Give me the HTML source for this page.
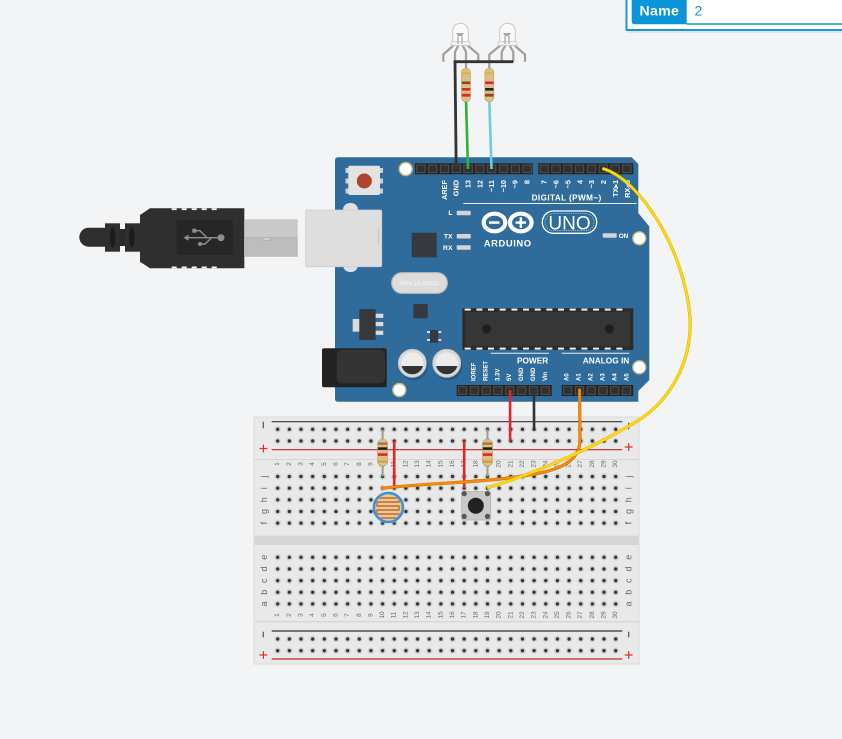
<!DOCTYPE html>
<html>
<head>
<meta charset="utf-8">
<style>
html,body{margin:0;padding:0;background:#f3f4f6;width:842px;height:739px;overflow:hidden;}
svg{display:block;}
text{font-family:"Liberation Sans",Arial,sans-serif;}
.cn text{font-size:6.5px;fill:#6a6a6a;text-anchor:middle;dominant-baseline:central;}
.rl text{font-size:9px;fill:#666;text-anchor:middle;dominant-baseline:central;}
.tl text{font-size:7.3px;font-weight:bold;fill:#fff;text-anchor:end;dominant-baseline:central;}
.bl text{font-size:6px;font-weight:bold;fill:#fff;text-anchor:start;dominant-baseline:central;}
</style>
</head>
<body>
<svg width="842" height="739" viewBox="0 0 842 739" xmlns="http://www.w3.org/2000/svg">
<defs>
  <pattern id="bh" width="11.655" height="11.655" patternUnits="userSpaceOnUse">
    <circle cx="5.83" cy="5.83" r="3.3" fill="#d3d3d3"/>
    <circle cx="5.83" cy="5.83" r="1.7" fill="#333"/>
  </pattern>
  <pattern id="pn" width="11.8" height="11" patternUnits="userSpaceOnUse">
    <rect x="1.7" y="1.7" width="8.4" height="7.6" fill="#303030" stroke="#5a5a5a" stroke-width="0.8"/>
  </pattern>
  <clipPath id="ldrc"><circle cx="388.4" cy="507.5" r="13"/></clipPath>
</defs>

<rect width="842" height="739" fill="#f3f4f6"/>

<!-- ================= BREADBOARD ================= -->
<rect x="254" y="417" width="385" height="247" fill="#e9e9e9" stroke="#dadada" stroke-width="1"/>
<rect x="254.5" y="459" width="384" height="1" fill="#d6d6d6"/>
<rect x="254.5" y="535.7" width="384" height="9.3" fill="#d6d6d6"/>
<rect x="254.5" y="621.2" width="384" height="1" fill="#d2d2d2"/>

<!-- rail lines -->
<line x1="271.7" y1="421.7" x2="622.3" y2="421.7" stroke="#333" stroke-width="1.2"/>
<line x1="271.7" y1="449.7" x2="622.3" y2="449.7" stroke="#c62828" stroke-width="1.2"/>
<line x1="271.7" y1="631" x2="622.3" y2="631" stroke="#333" stroke-width="1.2"/>
<line x1="271.7" y1="659" x2="622.3" y2="659" stroke="#c62828" stroke-width="1.2"/>

<!-- rail signs -->
<g stroke-width="1.2">
  <line x1="263.3" y1="421.7" x2="263.3" y2="428.3" stroke="#555"/>
  <line x1="259.5" y1="448.5" x2="267.3" y2="448.5" stroke="#d32f2f"/><line x1="263.4" y1="444.6" x2="263.4" y2="452.4" stroke="#d32f2f"/>
  <line x1="628.7" y1="422.7" x2="628.7" y2="429.3" stroke="#555"/>
  <line x1="624.8" y1="447" x2="632.6" y2="447" stroke="#d32f2f"/><line x1="628.7" y1="443.1" x2="628.7" y2="450.9" stroke="#d32f2f"/>
  <line x1="263.3" y1="631.7" x2="263.3" y2="637.3" stroke="#555"/>
  <line x1="259.5" y1="655" x2="267.3" y2="655" stroke="#d32f2f"/><line x1="263.4" y1="651.1" x2="263.4" y2="658.9" stroke="#d32f2f"/>
  <line x1="628.7" y1="631.7" x2="628.7" y2="637.3" stroke="#555"/>
  <line x1="624.8" y1="655" x2="632.6" y2="655" stroke="#d32f2f"/><line x1="628.7" y1="651.1" x2="628.7" y2="658.9" stroke="#d32f2f"/>
</g>

<!-- holes -->
<g transform="translate(271.87,423.47)"><rect width="349.65" height="23.31" fill="url(#bh)"/></g>
<g transform="translate(271.87,470.67)"><rect width="349.65" height="58.28" fill="url(#bh)"/></g>
<g transform="translate(271.87,551.47)"><rect width="349.65" height="58.28" fill="url(#bh)"/></g>
<g transform="translate(271.87,633.17)"><rect width="349.65" height="23.31" fill="url(#bh)"/></g>

<!-- column numbers top -->
<g class="cn">
<text transform="translate(277.7,464) rotate(-90)">1</text>
<text transform="translate(289.4,464) rotate(-90)">2</text>
<text transform="translate(301.0,464) rotate(-90)">3</text>
<text transform="translate(312.7,464) rotate(-90)">4</text>
<text transform="translate(324.3,464) rotate(-90)">5</text>
<text transform="translate(336.0,464) rotate(-90)">6</text>
<text transform="translate(347.6,464) rotate(-90)">7</text>
<text transform="translate(359.3,464) rotate(-90)">8</text>
<text transform="translate(370.9,464) rotate(-90)">9</text>
<text transform="translate(382.6,464) rotate(-90)">10</text>
<text transform="translate(394.2,464) rotate(-90)">11</text>
<text transform="translate(405.9,464) rotate(-90)">12</text>
<text transform="translate(417.6,464) rotate(-90)">13</text>
<text transform="translate(429.2,464) rotate(-90)">14</text>
<text transform="translate(440.9,464) rotate(-90)">15</text>
<text transform="translate(452.5,464) rotate(-90)">16</text>
<text transform="translate(464.2,464) rotate(-90)">17</text>
<text transform="translate(475.8,464) rotate(-90)">18</text>
<text transform="translate(487.5,464) rotate(-90)">19</text>
<text transform="translate(499.1,464) rotate(-90)">20</text>
<text transform="translate(510.8,464) rotate(-90)">21</text>
<text transform="translate(522.5,464) rotate(-90)">22</text>
<text transform="translate(534.1,464) rotate(-90)">23</text>
<text transform="translate(545.8,464) rotate(-90)">24</text>
<text transform="translate(557.4,464) rotate(-90)">25</text>
<text transform="translate(569.1,464) rotate(-90)">26</text>
<text transform="translate(580.7,464) rotate(-90)">27</text>
<text transform="translate(592.4,464) rotate(-90)">28</text>
<text transform="translate(604.0,464) rotate(-90)">29</text>
<text transform="translate(615.7,464) rotate(-90)">30</text>
<!-- bottom -->
<text transform="translate(277.7,615) rotate(-90)">1</text>
<text transform="translate(289.4,615) rotate(-90)">2</text>
<text transform="translate(301.0,615) rotate(-90)">3</text>
<text transform="translate(312.7,615) rotate(-90)">4</text>
<text transform="translate(324.3,615) rotate(-90)">5</text>
<text transform="translate(336.0,615) rotate(-90)">6</text>
<text transform="translate(347.6,615) rotate(-90)">7</text>
<text transform="translate(359.3,615) rotate(-90)">8</text>
<text transform="translate(370.9,615) rotate(-90)">9</text>
<text transform="translate(382.6,615) rotate(-90)">10</text>
<text transform="translate(394.2,615) rotate(-90)">11</text>
<text transform="translate(405.9,615) rotate(-90)">12</text>
<text transform="translate(417.6,615) rotate(-90)">13</text>
<text transform="translate(429.2,615) rotate(-90)">14</text>
<text transform="translate(440.9,615) rotate(-90)">15</text>
<text transform="translate(452.5,615) rotate(-90)">16</text>
<text transform="translate(464.2,615) rotate(-90)">17</text>
<text transform="translate(475.8,615) rotate(-90)">18</text>
<text transform="translate(487.5,615) rotate(-90)">19</text>
<text transform="translate(499.1,615) rotate(-90)">20</text>
<text transform="translate(510.8,615) rotate(-90)">21</text>
<text transform="translate(522.5,615) rotate(-90)">22</text>
<text transform="translate(534.1,615) rotate(-90)">23</text>
<text transform="translate(545.8,615) rotate(-90)">24</text>
<text transform="translate(557.4,615) rotate(-90)">25</text>
<text transform="translate(569.1,615) rotate(-90)">26</text>
<text transform="translate(580.7,615) rotate(-90)">27</text>
<text transform="translate(592.4,615) rotate(-90)">28</text>
<text transform="translate(604.0,615) rotate(-90)">29</text>
<text transform="translate(615.7,615) rotate(-90)">30</text>
</g>

<!-- row letters -->
<g class="rl">
<text transform="translate(264,476.5) rotate(-90)">j</text>
<text transform="translate(264,488.2) rotate(-90)">i</text>
<text transform="translate(264,499.8) rotate(-90)">h</text>
<text transform="translate(264,511.5) rotate(-90)">g</text>
<text transform="translate(264,523.1) rotate(-90)">f</text>
<text transform="translate(264,557.3) rotate(-90)">e</text>
<text transform="translate(264,569) rotate(-90)">d</text>
<text transform="translate(264,580.7) rotate(-90)">c</text>
<text transform="translate(264,592.3) rotate(-90)">b</text>
<text transform="translate(264,604) rotate(-90)">a</text>
<text transform="translate(628.7,476.5) rotate(-90)">j</text>
<text transform="translate(628.7,488.2) rotate(-90)">i</text>
<text transform="translate(628.7,499.8) rotate(-90)">h</text>
<text transform="translate(628.7,511.5) rotate(-90)">g</text>
<text transform="translate(628.7,523.1) rotate(-90)">f</text>
<text transform="translate(628.7,557.3) rotate(-90)">e</text>
<text transform="translate(628.7,569) rotate(-90)">d</text>
<text transform="translate(628.7,580.7) rotate(-90)">c</text>
<text transform="translate(628.7,592.3) rotate(-90)">b</text>
<text transform="translate(628.7,604) rotate(-90)">a</text>
</g>

<!-- ================= USB CABLE ================= -->
<path d="M106,227.7 H88.8 A9.5,9.5 0 0 0 88.8,246.7 H106 Z" fill="#2f2f2f"/>
<rect x="105" y="223.3" width="15" height="28.4" fill="#2f2f2f"/>
<rect x="119" y="229" width="7" height="17" fill="#2a2a2a"/>
<rect x="125" y="223.3" width="16" height="28.4" fill="#2f2f2f"/>
<ellipse cx="112.7" cy="237.5" rx="2.8" ry="10" fill="#1c1c1c"/>
<ellipse cx="131.7" cy="237.5" rx="2.8" ry="10" fill="#1c1c1c"/>
<path d="M150,208.3 H244.3 V268.3 H150 L140,261.7 V215 Z" fill="#2f2f2f"/>
<g fill="#f3f4f6">
  <rect x="171.7" y="208.3" width="5" height="1.8"/><rect x="181.7" y="208.3" width="5" height="1.8"/><rect x="191.7" y="208.3" width="5" height="1.8"/><rect x="201.7" y="208.3" width="5" height="1.8"/><rect x="211.7" y="208.3" width="5" height="1.8"/>
  <rect x="171.7" y="266.5" width="5" height="1.8"/><rect x="181.7" y="266.5" width="5" height="1.8"/><rect x="191.7" y="266.5" width="5" height="1.8"/><rect x="201.7" y="266.5" width="5" height="1.8"/><rect x="211.7" y="266.5" width="5" height="1.8"/>
</g>
<rect x="176.7" y="220" width="56" height="35" fill="#262626"/>
<!-- usb symbol -->
<g stroke="#8f8f8f" stroke-width="1.4" fill="none">
  <line x1="186" y1="237.7" x2="221" y2="237.7"/>
  <polyline points="194.3,230.7 200,230.7 207,237.7"/>
  <polyline points="200,244 205,244 211.5,237.7"/>
</g>
<g fill="#8f8f8f">
  <polygon points="183.3,237.7 188.5,234.8 188.5,240.6"/>
  <circle cx="221" cy="237.7" r="3.5"/>
  <rect x="192.3" y="228.7" width="4" height="4"/>
  <circle cx="200" cy="244" r="2"/>
</g>
<!-- metal -->
<rect x="244.3" y="219.3" width="53.4" height="37.4" fill="#c9c9c9"/>
<rect x="244.3" y="238" width="53.4" height="18.7" fill="#bdbdbd"/>
<line x1="244.3" y1="237.8" x2="297.7" y2="237.8" stroke="#adadad" stroke-width="0.8"/>
<rect x="263.5" y="237.8" width="6.5" height="2.5" fill="#d2d2d2" stroke="#a8a8a8" stroke-width="0.6"/>

<!-- ================= ARDUINO ================= -->
<path d="M338,157.3 H631.7 L638.3,164 V213 L649.3,226.5 V380 L638.3,391 V401.7 H338 Q335,401.7 335,398.7 V160.3 Q335,157.3 338,157.3 Z" fill="#2f6c9c"/>

<!-- usb port -->
<rect x="343" y="203" width="15" height="69" rx="7" fill="#dde1e5"/>
<rect x="305.7" y="210" width="76" height="56.7" rx="1.5" fill="#dedede" stroke="#cdcdcd" stroke-width="0.8"/>
<line x1="378.5" y1="229" x2="378.5" y2="245" stroke="#bdbdbd" stroke-width="0.8"/>

<!-- reset button -->
<g fill="#cfcfcf">
  <rect x="345.5" y="168" width="3" height="5"/><rect x="345.5" y="178.5" width="3" height="5"/><rect x="345.5" y="188.5" width="3" height="5"/>
  <rect x="380" y="168" width="3" height="5"/><rect x="380" y="178.5" width="3" height="5"/><rect x="380" y="188.5" width="3" height="5"/>
</g>
<rect x="348.3" y="165.7" width="31.7" height="29.3" rx="1.5" fill="#e3e3e3"/>
<circle cx="364.3" cy="181" r="7.5" fill="#b0452c"/>

<!-- mounting holes -->
<g fill="#fdfdfd" stroke="#cdb878" stroke-width="1.4">
  <circle cx="405.7" cy="169" r="6.5"/>
  <circle cx="639.3" cy="238.3" r="6.5"/>
  <circle cx="639.3" cy="367.3" r="6.5"/>
  <circle cx="399.3" cy="390" r="6.5"/>
</g>

<!-- headers top -->
<rect x="415" y="163.3" width="117.7" height="11" fill="#242424"/>
<g transform="translate(415,163.3)"><rect width="117.7" height="11" fill="url(#pn)"/></g>
<rect x="538.3" y="163.3" width="95" height="11" fill="#242424"/>
<g transform="translate(538.3,163.3)"><rect width="95" height="11" fill="url(#pn)"/></g>

<g class="tl">
<text transform="translate(444.5,180) rotate(-90)">AREF</text>
<text transform="translate(456.2,180) rotate(-90)">GND</text>
<text transform="translate(468,180) rotate(-90)">13</text>
<text transform="translate(479.8,180) rotate(-90)">12</text>
<text transform="translate(491.5,180) rotate(-90)">~11</text>
<text transform="translate(503.3,180) rotate(-90)">~10</text>
<text transform="translate(515,180) rotate(-90)">~9</text>
<text transform="translate(526.8,180) rotate(-90)">8</text>
<text transform="translate(544.2,180) rotate(-90)">7</text>
<text transform="translate(556.1,180) rotate(-90)">~6</text>
<text transform="translate(568,180) rotate(-90)">~5</text>
<text transform="translate(579.9,180) rotate(-90)">4</text>
<text transform="translate(591.7,180) rotate(-90)">~3</text>
<text transform="translate(603.6,180) rotate(-90)">2</text>
<text transform="translate(615.5,180) rotate(-90)">TX▸1</text>
<text transform="translate(627.4,180) rotate(-90)">RX◂0</text>
</g>
<text x="601.7" y="200.6" font-size="8.2" font-weight="bold" fill="#fff" text-anchor="end" letter-spacing="0.4">DIGITAL (PWM~)</text>
<line x1="463.3" y1="203.5" x2="636.7" y2="203.5" stroke="#e8eef4" stroke-width="1"/>

<!-- L TX RX leds -->
<g font-size="6.8" font-weight="bold" fill="#fff" text-anchor="end">
  <text x="452.5" y="215.2">L</text>
  <text x="452.5" y="238.5">TX</text>
  <text x="452.5" y="249.8">RX</text>
</g>
<g fill="#d4d4d4">
  <rect x="456.7" y="210.7" width="14" height="4.5" rx="0.8"/>
  <rect x="456.7" y="234" width="14" height="4.5" rx="0.8"/>
  <rect x="456.7" y="245.3" width="14" height="4.5" rx="0.8"/>
</g>

<!-- 16U2 chip -->
<rect x="411.7" y="232.7" width="25" height="24.7" fill="#363a3e"/>

<!-- Arduino logo -->
<ellipse cx="494.5" cy="222.5" rx="10.8" ry="8.8" fill="none" stroke="#fff" stroke-width="4.2"/>
<ellipse cx="520.8" cy="222.5" rx="10.8" ry="8.8" fill="none" stroke="#fff" stroke-width="4.2"/>
<rect x="489" y="221.3" width="10.5" height="2.5" fill="#fff"/>
<rect x="515.6" y="221.3" width="10.5" height="2.5" fill="#fff"/>
<rect x="519.6" y="217.3" width="2.5" height="10.5" fill="#fff"/>
<text x="507.7" y="246.7" font-size="9.4" font-weight="bold" fill="#fff" text-anchor="middle" letter-spacing="0.6">ARDUINO</text>

<!-- UNO pill -->
<rect x="542.3" y="211" width="54.4" height="22.3" rx="11.1" fill="none" stroke="#fff" stroke-width="1.3"/>
<rect x="545" y="213.7" width="49" height="16.9" rx="8.4" fill="none" stroke="#fff" stroke-width="0.7" stroke-dasharray="1,1.2" opacity="0.8"/>
<text x="569.5" y="229.5" font-size="19" fill="#fff" text-anchor="middle">UNO</text>

<!-- ON led -->
<rect x="602.7" y="233.3" width="14" height="4.4" rx="0.8" fill="#d4d4d4"/>
<text x="618.7" y="238" font-size="6.4" font-weight="bold" fill="#fff">ON</text>

<!-- crystal -->
<rect x="391.7" y="272.7" width="55.6" height="20.6" rx="10.3" fill="#dcdcdc" stroke="#bdbdbd" stroke-width="1.2"/>
<text x="419.5" y="285.6" font-size="6.8" fill="#f4f4f4" text-anchor="middle">SPK16.000G</text>

<!-- small chip -->
<rect x="413.3" y="304" width="14.4" height="14.3" fill="#363a3e"/>

<!-- regulator -->
<rect x="352.7" y="319" width="7" height="12.7" fill="#dadada"/>
<rect x="359.3" y="309" width="16.4" height="31" fill="#363a3e"/>
<g fill="#dadada">
  <rect x="375.7" y="313.7" width="7.6" height="4.2"/>
  <rect x="375.7" y="322" width="7.6" height="4.2"/>
  <rect x="375.7" y="330.7" width="7.6" height="4.2"/>
</g>

<!-- small transistor -->
<rect x="430" y="330" width="8.3" height="12.7" fill="#363a3e"/>
<g fill="#dadada">
  <rect x="427" y="331" width="3" height="2"/><rect x="427" y="339" width="3" height="2"/>
  <rect x="438.3" y="331" width="3" height="2"/><rect x="438.3" y="339" width="3" height="2"/>
</g>

<!-- main IC -->
<rect x="462.3" y="308.3" width="171" height="41.7" rx="1" fill="#2c2c2c"/>
<rect x="465.5" y="312" width="164.6" height="34.3" fill="#363636"/>
<g fill="#f0f0f0">
  <rect x="464.7" y="308.6" width="6" height="2"/><rect x="476.4" y="308.6" width="6" height="2"/><rect x="488" y="308.6" width="6" height="2"/><rect x="499.7" y="308.6" width="6" height="2"/><rect x="511.4" y="308.6" width="6" height="2"/><rect x="523" y="308.6" width="6" height="2"/><rect x="534.7" y="308.6" width="6" height="2"/><rect x="546.4" y="308.6" width="6" height="2"/><rect x="558" y="308.6" width="6" height="2"/><rect x="569.7" y="308.6" width="6" height="2"/><rect x="581.4" y="308.6" width="6" height="2"/><rect x="593" y="308.6" width="6" height="2"/><rect x="604.7" y="308.6" width="6" height="2"/><rect x="616.4" y="308.6" width="6" height="2"/>
  <rect x="464.7" y="347.6" width="6" height="2"/><rect x="476.4" y="347.6" width="6" height="2"/><rect x="488" y="347.6" width="6" height="2"/><rect x="499.7" y="347.6" width="6" height="2"/><rect x="511.4" y="347.6" width="6" height="2"/><rect x="523" y="347.6" width="6" height="2"/><rect x="534.7" y="347.6" width="6" height="2"/><rect x="546.4" y="347.6" width="6" height="2"/><rect x="558" y="347.6" width="6" height="2"/><rect x="569.7" y="347.6" width="6" height="2"/><rect x="581.4" y="347.6" width="6" height="2"/><rect x="593" y="347.6" width="6" height="2"/><rect x="604.7" y="347.6" width="6" height="2"/><rect x="616.4" y="347.6" width="6" height="2"/>
</g>
<circle cx="486.7" cy="329" r="4.5" fill="#1e1e1e"/>
<circle cx="609.3" cy="329" r="4.5" fill="#1e1e1e"/>

<!-- POWER / ANALOG labels -->
<line x1="490.7" y1="353.3" x2="549" y2="353.3" stroke="#e8eef4" stroke-width="1"/>
<line x1="561.7" y1="353.3" x2="629.3" y2="353.3" stroke="#e8eef4" stroke-width="1"/>
<text x="548.3" y="363.3" font-size="8.3" font-weight="bold" fill="#fff" text-anchor="end">POWER</text>
<text x="629.3" y="363.3" font-size="8.3" font-weight="bold" fill="#fff" text-anchor="end">ANALOG IN</text>

<g class="bl">
<text transform="translate(474.5,381) rotate(-90)">IOREF</text>
<text transform="translate(486.4,381) rotate(-90)">RESET</text>
<text transform="translate(498.3,381) rotate(-90)">3.3V</text>
<text transform="translate(510.1,381) rotate(-90)">5V</text>
<text transform="translate(522,381) rotate(-90)">GND</text>
<text transform="translate(533.9,381) rotate(-90)">GND</text>
<text transform="translate(545.8,381) rotate(-90)">Vin</text>
<text transform="translate(567.7,381) rotate(-90)">A0</text>
<text transform="translate(579.6,381) rotate(-90)">A1</text>
<text transform="translate(591.5,381) rotate(-90)">A2</text>
<text transform="translate(603.5,381) rotate(-90)">A3</text>
<text transform="translate(615.4,381) rotate(-90)">A4</text>
<text transform="translate(627.4,381) rotate(-90)">A5</text>
</g>

<!-- bottom headers -->
<rect x="456.7" y="385" width="95" height="11" fill="#242424"/>
<g transform="translate(456.7,385)"><rect width="95" height="11" fill="url(#pn)"/></g>
<rect x="561.7" y="385" width="71.6" height="11" fill="#242424"/>
<g transform="translate(561.7,385)"><rect width="71.6" height="11" fill="url(#pn)"/></g>

<!-- capacitors -->
<circle cx="413.8" cy="366" r="14.3" fill="#255a85"/>
<circle cx="448.2" cy="366" r="14.3" fill="#255a85"/>
<circle cx="412.3" cy="363.3" r="14" fill="#d8d8d8" stroke="#c2c2c2" stroke-width="0.8"/>
<circle cx="412.3" cy="363.3" r="11" fill="#ececec"/>
<path d="M401.64,366 A11,11 0 0 0 422.96,366 Z" fill="#333"/>
<circle cx="446.7" cy="363.3" r="14" fill="#d8d8d8" stroke="#c2c2c2" stroke-width="0.8"/>
<circle cx="446.7" cy="363.3" r="11" fill="#ececec"/>
<path d="M436.04,366 A11,11 0 0 0 457.36,366 Z" fill="#333"/>

<!-- DC jack -->
<rect x="322" y="348.3" width="64.7" height="39" rx="2" fill="#232323"/>
<rect x="336.7" y="350" width="48.3" height="33.3" rx="5" fill="#343434"/>

<!-- ================= TOP LEDS / RESISTORS ================= -->
<g stroke="#a0a0a0" stroke-width="2.2" fill="none" stroke-linejoin="round">
  <polyline points="455,44 443.3,54.5 443.3,61.7"/>
  <polyline points="458.5,45 455,52 455,61.7"/>
  <polyline points="462.5,45 466,52 466,68"/>
  <polyline points="466,44 478.3,54.5 478.3,61.7"/>
  <polyline points="502,44 489.3,54.5 489.3,68"/>
  <polyline points="505.5,45 501.7,52 501.7,61.7"/>
  <polyline points="509.5,45 513.3,52 513.3,61.7"/>
  <polyline points="513,44 525,54.5 525,61.7"/>
</g>
<!-- LED 1 -->
<path d="M452.7,44 V31 A7.8,7.8 0 0 1 468.3,31 V44 Z" fill="#f9f9f9" fill-opacity="0.85" stroke="#c8c8c8" stroke-width="1"/>
<rect x="451" y="41.5" width="19" height="4" rx="1" fill="#f4f4f4" stroke="#c8c8c8" stroke-width="0.8"/>
<path d="M456,33 H464 L462,36 H458 Z" fill="#a8a8a8"/>
<line x1="458" y1="36" x2="458" y2="44" stroke="#a8a8a8" stroke-width="1.2"/>
<line x1="462" y1="36" x2="462" y2="44" stroke="#a8a8a8" stroke-width="1.2"/>
<!-- LED 2 -->
<path d="M499.7,44 V31 A7.8,7.8 0 0 1 515.3,31 V44 Z" fill="#f9f9f9" fill-opacity="0.85" stroke="#c8c8c8" stroke-width="1"/>
<rect x="498" y="41.5" width="19" height="4" rx="1" fill="#f4f4f4" stroke="#c8c8c8" stroke-width="0.8"/>
<path d="M503,33 H511 L509,36 H505 Z" fill="#a8a8a8"/>
<line x1="505" y1="36" x2="505" y2="44" stroke="#a8a8a8" stroke-width="1.2"/>
<line x1="509" y1="36" x2="509" y2="44" stroke="#a8a8a8" stroke-width="1.2"/>

<!-- black GND wire top -->
<polyline points="456.2,169 455,61.7 513.3,61.7" fill="none" stroke="#333" stroke-width="2.8" stroke-linejoin="miter"/>
<!-- green / cyan -->
<line x1="466" y1="100" x2="468" y2="169" stroke="#2eb33a" stroke-width="2.6"/>
<line x1="489.3" y1="100" x2="491.5" y2="169" stroke="#72cbd8" stroke-width="2.6"/>

<!-- top resistors -->
<rect x="461.5" y="68.3" width="9" height="33.4" rx="4" fill="#dcbf86" stroke="#c7a66c" stroke-width="0.7"/>
<rect x="461.8" y="72.5" width="8.4" height="1.6" fill="#d9b33a"/>
<rect x="461.8" y="81.5" width="8.4" height="2.6" fill="#8a4a1d"/>
<rect x="461.8" y="88" width="8.4" height="2.6" fill="#e0262b"/>
<rect x="461.8" y="93.8" width="8.4" height="2.8" fill="#e0262b"/>
<rect x="484.8" y="68.3" width="9" height="33.4" rx="4" fill="#dcbf86" stroke="#c7a66c" stroke-width="0.7"/>
<rect x="485.1" y="72.5" width="8.4" height="1.6" fill="#d9b33a"/>
<rect x="485.1" y="81.5" width="8.4" height="2.6" fill="#e0262b"/>
<rect x="485.1" y="88" width="8.4" height="2.6" fill="#222"/>
<rect x="485.1" y="93.8" width="8.4" height="2.8" fill="#8a4a1d"/>

<!-- ================= BREADBOARD COMPONENTS ================= -->
<!-- resistor col10 -->
<line x1="382.6" y1="429.3" x2="382.6" y2="476.5" stroke="#9a9a9a" stroke-width="2"/>
<rect x="377.6" y="439.3" width="10" height="26.7" rx="4.5" fill="#dcbf86" stroke="#c7a66c" stroke-width="0.7"/>
<rect x="377.9" y="442.5" width="9.4" height="2.2" fill="#a0703a"/>
<rect x="377.9" y="447.3" width="9.4" height="2.6" fill="#1e1e1e"/>
<rect x="377.9" y="453.3" width="9.4" height="2.6" fill="#e0262b"/>
<rect x="377.9" y="460.7" width="9.4" height="2" fill="#c9a13a"/>
<!-- resistor col19 -->
<line x1="487.5" y1="429.3" x2="487.5" y2="476.5" stroke="#9a9a9a" stroke-width="2"/>
<rect x="482.5" y="439.3" width="10" height="26.7" rx="4.5" fill="#dcbf86" stroke="#c7a66c" stroke-width="0.7"/>
<rect x="482.8" y="442.5" width="9.4" height="2.2" fill="#a0703a"/>
<rect x="482.8" y="447.3" width="9.4" height="2.6" fill="#1e1e1e"/>
<rect x="482.8" y="453.3" width="9.4" height="2.6" fill="#e0262b"/>
<rect x="482.8" y="460.7" width="9.4" height="2" fill="#c9a13a"/>

<!-- LDR -->
<line x1="382.6" y1="515" x2="382.6" y2="523.1" stroke="#3d8fd8" stroke-width="2.2"/>
<line x1="394.2" y1="515" x2="394.2" y2="523.1" stroke="#3d8fd8" stroke-width="2.2"/>
<circle cx="388.4" cy="507.5" r="14.5" fill="#e8c999" stroke="#3d8fd8" stroke-width="2.6"/>
<g clip-path="url(#ldrc)">
  <path d="M377,498 H399 V502 H377 V506 H399 V510 H377 V514 H399 V518 H377" fill="none" stroke="#c0692a" stroke-width="1.4"/>
</g>

<!-- pushbutton -->
<rect x="461.7" y="491.7" width="29" height="28.3" rx="1.5" fill="#c9c9c9" stroke="#b3b3b3" stroke-width="0.8"/>
<g fill="#555">
  <circle cx="464.2" cy="493.6" r="2.6"/><circle cx="487.5" cy="493.6" r="2.6"/>
  <circle cx="464.2" cy="516.4" r="2.6"/><circle cx="487.5" cy="516.4" r="2.6"/>
</g>
<circle cx="475.8" cy="505.7" r="8" fill="#222"/>

<!-- ================= WIRES ================= -->
<line x1="510.1" y1="390" x2="510.1" y2="441" stroke="#e0262b" stroke-width="2.6"/>
<line x1="533.9" y1="390" x2="534.1" y2="429.3" stroke="#333" stroke-width="2.6"/>
<line x1="394.2" y1="441" x2="394.2" y2="488.2" stroke="#e0262b" stroke-width="2.6"/>
<line x1="464.2" y1="441" x2="464.2" y2="488.2" stroke="#e0262b" stroke-width="2.6"/>

<!-- orange -->
<path d="M579.6,390 L580,440 C580,470 540,474 500,479 C460,483 420,484 382.6,488.2" fill="none" stroke="#c96f00" stroke-width="3.2" stroke-linecap="round"/>
<path d="M579.6,390 L580,440 C580,470 540,474 500,479 C460,483 420,484 382.6,488.2" fill="none" stroke="#f28c0a" stroke-width="2.2" stroke-linecap="round"/>

<!-- yellow -->
<path d="M603.6,168.8 C640,180 685,250 690,318 C692,360 672,405 625,428 C595,446 540,472 488.3,487.5" fill="none" stroke="#d9b400" stroke-width="3.2" stroke-linecap="round"/>
<path d="M603.6,168.8 C640,180 685,250 690,318 C692,360 672,405 625,428 C595,446 540,472 488.3,487.5" fill="none" stroke="#ffd814" stroke-width="2.2" stroke-linecap="round"/>

<!-- ================= NAME BOX ================= -->
<rect x="627" y="-6" width="222" height="37" fill="#000" opacity="0.06" transform="translate(0,2)"/>
<rect x="626.5" y="-6" width="222" height="36" fill="#fff" stroke="#1796d8" stroke-width="2"/>
<path d="M631.7,-6 H686.7 V24.3 H634.7 Q631.7,24.3 631.7,21.3 Z" fill="#0a95d6"/>
<line x1="686.7" y1="24" x2="842" y2="24" stroke="#1796d8" stroke-width="1.6"/>
<text x="639.5" y="15.5" font-size="14" font-weight="bold" fill="#fff" letter-spacing="0.4">Name</text>
<text x="694.5" y="15.5" font-size="14" fill="#1a8fd0">2</text>
</svg>
</body>
</html>
